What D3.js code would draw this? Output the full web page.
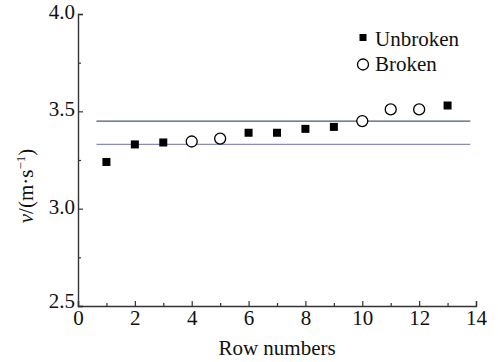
<!DOCTYPE html>
<head>
  <meta charset="utf-8">
  <title>Row velocity</title>
  <script src="https://cdn.jsdelivr.net/npm/d3@7/dist/d3.min.js"></script>
  <style>
  body { margin: 0; background: #fff; }
  svg text { font-family: "Liberation Serif", "DejaVu Serif", serif; fill: #111; }
  </style>
</head>
<body>
<script>
var WIDTH = 498, HEIGHT = 362;
var FONT = "'Liberation Serif', 'DejaVu Serif', serif";

// data
var unbrokenRows = [1, 2, 3, 6, 7, 8, 9, 13];
var unbrokenV = [3.24, 3.33, 3.34, 3.39, 3.39, 3.41, 3.42, 3.53];
var brokenRows = [4, 5, 10, 11, 12];
var brokenV = [3.345, 3.36, 3.45, 3.51, 3.51];
var refLevels = [3.45, 3.33];
var refColors = ["#4e5878", "#8a8cc0"];
var refStart = 0.65, refEnd = 13.8;
var xTicks = [0, 2, 4, 6, 8, 10, 12, 14];
var yTicks = [2.5, 3.0, 3.5, 4.0];

var margin = {left: 78, right: 22, top: 14, bottom: 56};

var svg = d3.select("body").append("svg")
  .attr("width", WIDTH)
  .attr("height", HEIGHT)
  .style("font-family", FONT);

var x = d3.scaleLinear().domain([0, 14]).range([margin.left, WIDTH - margin.right]);
var y = d3.scaleLinear().domain([2.5, 4.0]).range([HEIGHT - margin.bottom, margin.top]);

// reference lines
svg.selectAll(".ref").data(refLevels).enter().append("line")
  .attr("x1", x(refStart)).attr("x2", x(refEnd))
  .attr("y1", function(d){ return y(d); })
  .attr("y2", function(d){ return y(d); })
  .attr("stroke", function(d, i){ return refColors[i]; })
  .attr("stroke-width", 1.2);

// axes, ticks pointing inside
var xAxis = svg.append("g").attr("transform", "translate(0," + y(2.5) + ")")
  .call(d3.axisBottom(x).tickValues(xTicks).tickSize(-5).tickPadding(4).tickFormat(d3.format("d")));
var xMinor = svg.append("g").attr("transform", "translate(0," + y(2.5) + ")")
  .call(d3.axisBottom(x).tickValues(d3.range(1, 14, 2)).tickSize(-3).tickFormat(""));
var yAxis = svg.append("g").attr("transform", "translate(" + x(0) + ",0)")
  .call(d3.axisLeft(y).tickValues(yTicks).tickSize(-5).tickPadding(3).tickFormat(d3.format(".1f")));
var yMinor = svg.append("g").attr("transform", "translate(" + x(0) + ",0)")
  .call(d3.axisLeft(y).tickValues([2.75, 3.25, 3.75]).tickSize(-3).tickFormat(""));

[xAxis, xMinor, yAxis, yMinor].forEach(function(g){
  g.attr("font-family", FONT).attr("font-size", 21);
  g.select(".domain").attr("stroke", "#333").attr("stroke-width", 1.4);
  g.selectAll(".tick line").attr("stroke", "#333").attr("stroke-width", 1.2);
  g.selectAll("text").attr("fill", "#111");
});
xMinor.select(".domain").remove();
yMinor.select(".domain").remove();
xAxis.selectAll("text").attr("dy", "0.72em");
yAxis.selectAll("text").attr("dy", "0.22em");
// the lowest y label sits a little higher so it clears the "0"
yAxis.selectAll(".tick text").filter(function(d){ return d === 2.5; }).attr("dy", "0.05em");

// axis titles
svg.append("text")
  .attr("x", x(7)).attr("y", 355)
  .attr("text-anchor", "middle")
  .attr("font-size", 21)
  .text("Row numbers");

var yl = svg.append("text")
  .attr("transform", "translate(33,186) rotate(-90)")
  .attr("text-anchor", "middle")
  .attr("font-size", 21);
yl.append("tspan").attr("font-style", "italic").text("v");
yl.append("tspan").text("/(m·s");
yl.append("tspan").attr("font-size", 13).attr("dy", -8).text("−1");
yl.append("tspan").attr("dy", 8).text(")");

// markers
var sq = 8;
svg.selectAll(".unbroken").data(unbrokenRows).enter().append("rect")
  .attr("x", function(d){ return x(d) - sq / 2; })
  .attr("y", function(d, i){ return y(unbrokenV[i]) - sq / 2; })
  .attr("width", sq).attr("height", sq)
  .attr("fill", "#000");

svg.selectAll(".broken").data(brokenRows).enter().append("circle")
  .attr("cx", function(d){ return x(d); })
  .attr("cy", function(d, i){ return y(brokenV[i]); })
  .attr("r", 5.5)
  .attr("fill", "#fff")
  .attr("stroke", "#000")
  .attr("stroke-width", 1.3);

// legend
var legend = svg.append("g").attr("transform", "translate(363,0)");
legend.append("rect").attr("x", -3.5).attr("y", 34).attr("width", 7).attr("height", 7).attr("fill", "#000");
legend.append("text").attr("x", 12).attr("y", 46).attr("font-size", 21).text("Unbroken");
legend.append("circle").attr("cx", 0).attr("cy", 64.5).attr("r", 5.5)
  .attr("fill", "#fff").attr("stroke", "#000").attr("stroke-width", 1.3);
legend.append("text").attr("x", 12).attr("y", 71).attr("font-size", 21).text("Broken");
</script>
</body>
